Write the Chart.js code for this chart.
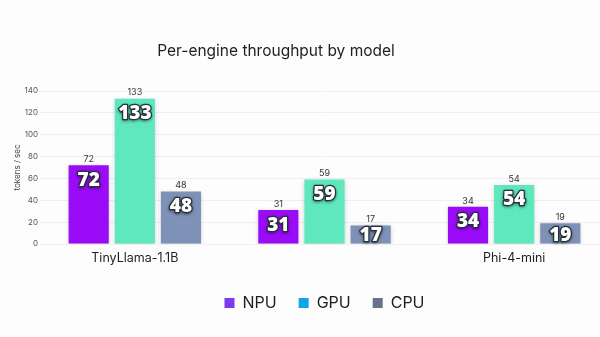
<!DOCTYPE html>
<html>
<head>
<meta charset="utf-8">
<script src="https://cdn.jsdelivr.net/npm/chart.js@4/dist/chart.umd.min.js"></script>
<style>
  html, body { margin: 0; padding: 0; background: #fdfdfd; overflow: hidden; }
  #wrap { position: relative; width: 600px; height: 337px; overflow: hidden; }
  #title {
    position: absolute; left: 0; top: 41px; width: 552px; text-align: center;
    font-family: Inter, "Noto Sans", sans-serif; font-size: 15.5px; color: #1e1e24;
  }
  #chart { position: absolute; left: 0; top: 0; }
</style>
</head>
<body>
<div id="wrap">
  <canvas id="chart" width="620" height="337"></canvas>
  <div id="title">Per-engine throughput by model</div>
</div>
<script>
// middle model name is not shown in the picture (skipped tick label)
const models = ["TinyLlama-1.1B", "", "Phi-4-mini"];
const npuValues = [72, 31, 34];
const gpuValues = [133, 59, 54];
const cpuValues = [48, 17, 19];
const yTicks = [0, 20, 40, 60, 80, 100, 120, 140];

const barColors = ["#9a0cf7", "#5fe8bd", "#7e91b7"];
const legendColors = ["#7c3aed", "#0ea5e9", "#64748b"];

// draws the small value above each bar and the big outlined one inside it
const valueLabels = {
    id: "valueLabels",
    afterDatasetsDraw(chart) {
        const ctx = chart.ctx;
        const base = chart.scales.y.getPixelForValue(0);
        chart.data.datasets.forEach((ds, i) => {
            chart.getDatasetMeta(i).data.forEach((bar, j) => {
                const v = ds.data[j];
                ctx.save();
                ctx.textAlign = "center";
                ctx.textBaseline = "middle";
                ctx.font = "9px Inter, sans-serif";
                ctx.fillStyle = "#333";
                ctx.fillText(String(v), bar.x, bar.y - 6);

                const cy = Math.min(bar.y + 15, base - 8);
                ctx.font = "800 19px 'Open Sans', Lato, sans-serif";
                ctx.lineJoin = "round";
                ctx.shadowColor = "rgba(0,0,0,0.5)";
                ctx.shadowBlur = 3;
                ctx.shadowOffsetY = 1;
                ctx.strokeStyle = "#263038";
                ctx.lineWidth = 2.5;
                ctx.strokeText(String(v), bar.x, cy);
                ctx.shadowColor = "transparent";
                ctx.fillStyle = "#ffffff";
                ctx.fillText(String(v), bar.x, cy);
                ctx.restore();
            });
        });
    }
};

const barShadow = {
    id: "barShadow",
    beforeDatasetsDraw(chart) {
        chart.ctx.save();
        chart.ctx.shadowColor = "rgba(0,0,0,0.18)";
        chart.ctx.shadowBlur = 4;
        chart.ctx.shadowOffsetY = 1;
    },
    afterDatasetsDraw(chart) {
        chart.ctx.restore();
    }
};

const names = ["NPU", "GPU", "CPU"];
const seriesValues = [npuValues, gpuValues, cpuValues];

new Chart(document.getElementById("chart"), {
    type: "bar",
    data: {
        labels: models,
        datasets: names.map((name, i) => ({
            label: name,
            data: seriesValues[i],
            backgroundColor: barColors[i],
            borderWidth: 0,
            barPercentage: 0.87,
            categoryPercentage: 0.73
        }))
    },
    options: {
        responsive: false,
        animation: false,
        layout: { padding: { top: 91, right: 11, bottom: 16, left: 0 } },
        scales: {
            x: {
                grid: { display: false, drawTicks: false },
                border: { display: false },
                ticks: {
                    autoSkip: false,
                    maxRotation: 0,
                    color: "#1e1e24",
                    font: { family: "Inter, sans-serif", size: 12.5 },
                    padding: 7
                }
            },
            y: {
                min: 0,
                max: 140,
                afterFit: (s) => { s.width = 40; },
                afterBuildTicks: (s) => { s.ticks = yTicks.map(v => ({ value: v })); },
                border: { display: false },
                grid: { color: "#efeff2", tickLength: 0 },
                ticks: {
                    color: "#555",
                    font: { family: "Inter, sans-serif", size: 8 },
                    padding: 2
                },
                title: {
                    display: true,
                    text: "tokens / sec",
                    color: "#444",
                    font: { family: "Inter, sans-serif", size: 8 },
                    padding: { top: 13, bottom: 0 }
                }
            }
        },
        plugins: {
            title: { display: false },
            tooltip: { enabled: false },
            legend: {
                position: "bottom",
                fullSize: false,
                labels: {
                    boxWidth: 10,
                    boxHeight: 10,
                    padding: 22,
                    color: "#1e1e24",
                    font: { family: "Inter, sans-serif", size: 16 },
                    generateLabels: (chart) => names.map((n, i) => ({
                        text: n,
                        fillStyle: legendColors[i],
                        strokeStyle: legendColors[i],
                        lineWidth: 0,
                        fontColor: "#1e1e24",
                        datasetIndex: i
                    }))
                }
            }
        }
    },
    plugins: [barShadow, valueLabels]
});
</script>
</body>
</html>
